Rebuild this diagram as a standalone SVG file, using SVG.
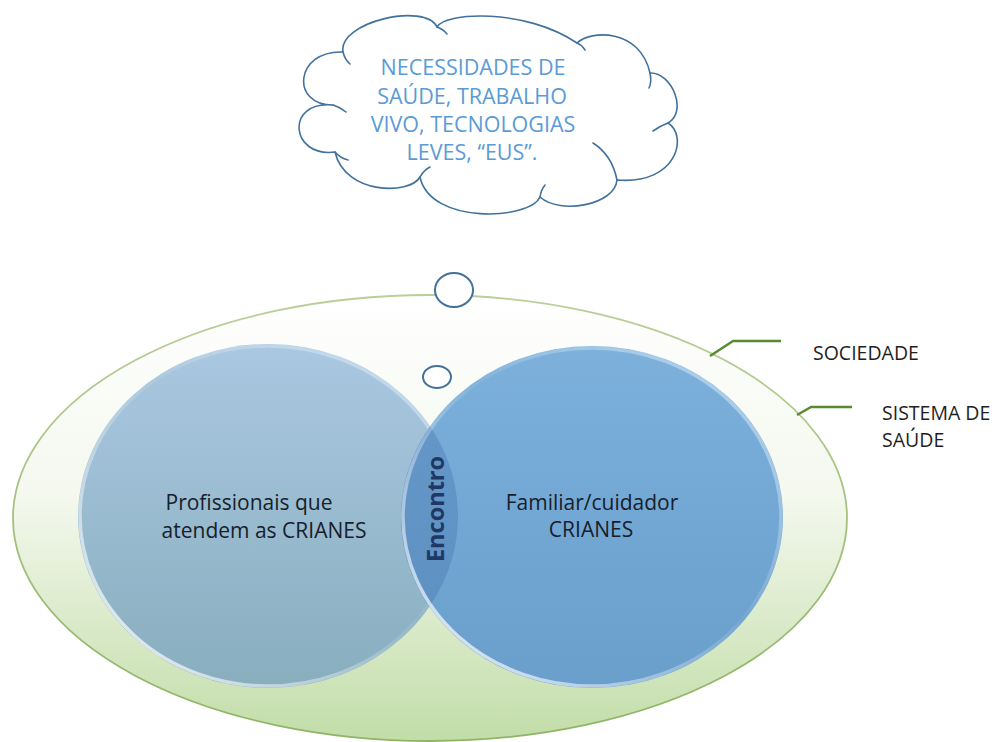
<svg xmlns="http://www.w3.org/2000/svg" width="997" height="742" viewBox="0 0 997 742">
  <style>
    .cloud-line { fill: none; stroke: #41719c; stroke-width: 1.6; stroke-linecap: round; }
    .bubble { fill: #ffffff; stroke: #41719c; stroke-width: 2; }
    .cloud-text { font-family: "Open Sans", "Liberation Sans", sans-serif; font-size: 21.5px; fill: #5b9bd5; text-anchor: middle; }
    .node-text { font-family: "Open Sans", "Liberation Sans", sans-serif; font-size: 21px; fill: #17202b; text-anchor: middle; }
    .side-text { font-family: "Open Sans", "Liberation Sans", sans-serif; font-size: 19.5px; fill: #1e1e1e; }
    .leader { fill: none; stroke: #5a8a30; stroke-width: 2.5; stroke-linejoin: round; }
  </style>
  <defs>
    <linearGradient id="outerFill" x1="0" y1="0" x2="0" y2="1">
      <stop offset="0" stop-color="#ffffff"/>
      <stop offset="0.45" stop-color="#f4f8ee"/>
      <stop offset="1" stop-color="#c2dda8"/>
    </linearGradient>
    <linearGradient id="leftFill" x1="0" y1="0" x2="0" y2="1">
      <stop offset="0" stop-color="#aac8e1"/>
      <stop offset="1" stop-color="#88aebe"/>
    </linearGradient>
    <linearGradient id="rightFill" x1="0" y1="0" x2="0" y2="1">
      <stop offset="0" stop-color="#7db1dc"/>
      <stop offset="1" stop-color="#6a9ecb"/>
    </linearGradient>
    <linearGradient id="overlapFill" x1="0" y1="0" x2="0" y2="1">
      <stop offset="0" stop-color="#6799cb"/>
      <stop offset="1" stop-color="#5c8fc0"/>
    </linearGradient>
    <linearGradient id="rim" x1="1" y1="0" x2="0" y2="1">
      <stop offset="0" stop-color="#cfe4f4" stop-opacity="0.7"/>
      <stop offset="0.45" stop-color="#ffffff" stop-opacity="0.05"/>
      <stop offset="0.75" stop-color="#ffffff" stop-opacity="0.5"/>
      <stop offset="1" stop-color="#ffffff" stop-opacity="0.95"/>
    </linearGradient>
    <linearGradient id="outerRim" x1="0" y1="0" x2="0" y2="1">
      <stop offset="0" stop-color="#b9cf98"/>
      <stop offset="1" stop-color="#8fb466"/>
    </linearGradient>
    <clipPath id="rightClip">
      <ellipse cx="592" cy="517" rx="191" ry="171"/>
    </clipPath>
  </defs>

  <!-- thought cloud -->
  <g id="cloud">
    <path fill="#ffffff" stroke="#41719c" stroke-width="1.6" stroke-linejoin="round"
          d="M343,52 C338,22 425,2 437,27 C445,12 525,8 577,43 C590,30 640,28 650,73 C672,72 688,112 668,123 C688,135 678,185 617,180 C615,205 560,215 540,197 C530,220 430,225 420,177 C410,195 345,195 335,152 C290,158 285,100 333,105 C290,105 295,50 343,52 Z"/>
    <path class="cloud-line" d="M343,52 Q345,60 350,64"/>
    <path class="cloud-line" d="M437,27 Q443,29 447,34"/>
    <path class="cloud-line" d="M577,43 Q582,45 585,50"/>
    <path class="cloud-line" d="M650,73 Q652,82 649,88"/>
    <path class="cloud-line" d="M668,123 Q660,126 653,131"/>
    <path class="cloud-line" d="M617,180 Q612,155 593,143"/>
    <path class="cloud-line" d="M540,197 Q541,190 545,185"/>
    <path class="cloud-line" d="M420,177 Q424,170 430,167"/>
    <path class="cloud-line" d="M335,152 Q340,158 348,160"/>
    <path class="cloud-line" d="M333,105 Q340,107 346,112"/>
    <text class="cloud-text" x="473" y="75">NECESSIDADES DE</text>
    <text class="cloud-text" x="472" y="103.5">SAÚDE, TRABALHO</text>
    <text class="cloud-text" x="473" y="132">VIVO, TECNOLOGIAS</text>
    <text class="cloud-text" x="472" y="160">LEVES, “EUS”.</text>
  </g>

  <!-- society / health system -->
  <g id="sociedade">
    <ellipse cx="430" cy="518" rx="417" ry="223" fill="url(#outerFill)" stroke="url(#outerRim)" stroke-width="1.8"/>
  </g>

  <!-- thought bubbles -->
  <g id="bubble-large">
    <ellipse class="bubble" cx="454" cy="290" rx="19" ry="17"/>
  </g>
  <g id="bubble-small">
    <ellipse class="bubble" cx="437" cy="377" rx="14" ry="11"/>
  </g>

  <!-- professionals -->
  <g id="profissionais">
    <ellipse cx="268" cy="516" rx="190" ry="172" fill="url(#leftFill)"/>
    <ellipse cx="268" cy="516" rx="188" ry="170" fill="none" stroke="url(#rim)" stroke-width="3.5"/>
    <text class="node-text" x="249" y="510">Profissionais que</text>
    <text class="node-text" x="264" y="538">atendem as CRIANES</text>
  </g>

  <!-- family / caregiver -->
  <g id="familiar">
    <ellipse cx="592" cy="517" rx="191" ry="171" fill="url(#rightFill)"/>
    <text class="node-text" x="592" y="510">Familiar/cuidador</text>
    <text class="node-text" x="591" y="537">CRIANES</text>
  </g>

  <!-- meeting zone -->
  <g id="encontro">
    <ellipse cx="268" cy="516" rx="190" ry="172" fill="url(#overlapFill)" clip-path="url(#rightClip)"/>
    <ellipse cx="592" cy="517" rx="189" ry="169" fill="none" stroke="url(#rim)" stroke-width="3.5"/>
    <text transform="translate(444,509) rotate(-90)" x="0" y="0" text-anchor="middle"
          font-family="'Open Sans', 'Liberation Sans', sans-serif" font-weight="bold" font-size="23.5" fill="#1f3864">Encontro</text>
  </g>

  <!-- leader lines -->
  <g id="connectors">
    <polyline class="leader" points="710,356 733,341 781,341"/>
    <polyline class="leader" points="797,415 811,407 852,407"/>
  </g>

  <g id="labels">
    <text class="side-text" x="813" y="360">SOCIEDADE</text>
    <text class="side-text" x="882" y="420">SISTEMA DE</text>
    <text class="side-text" x="882" y="447">SAÚDE</text>
  </g>
</svg>
